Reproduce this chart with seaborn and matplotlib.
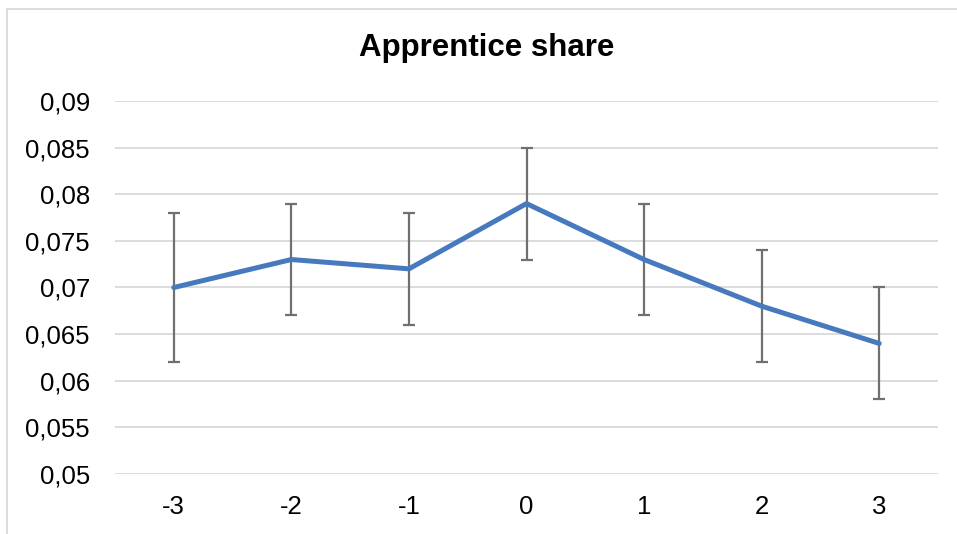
import numpy as np
import pandas as pd
import seaborn as sns
import matplotlib.pyplot as plt
from matplotlib.ticker import FuncFormatter

periods = [-3, -2, -1, 0, 1, 2, 3]
share = [0.070, 0.073, 0.072, 0.079, 0.073, 0.068, 0.064]
lower = [0.062, 0.067, 0.066, 0.073, 0.067, 0.062, 0.058]
upper = [0.078, 0.079, 0.078, 0.085, 0.079, 0.074, 0.070]

df = pd.DataFrame({"period": periods, "share": share})

sns.set_style("white")
plt.rcParams["font.family"] = ["Liberation Sans", "DejaVu Sans"]

fig = plt.figure(figsize=(9.57, 5.34), dpi=100)
ax = fig.add_axes([115 / 957, 1 - 474 / 534, (938 - 115) / 957, (474 - 101) / 534])

# error bars first, line on top
yerr = [np.array(share) - np.array(lower), np.array(upper) - np.array(share)]
ax.errorbar(periods, share, yerr=yerr, fmt="none", ecolor="#707070",
            elinewidth=1.6, capsize=4.5, capthick=1.6, zorder=2)
sns.lineplot(data=df, x="period", y="share", color="#4679bd", linewidth=3.6,
             ax=ax, zorder=3)

ax.set_xlim(-3.5, 3.5)
ax.set_ylim(0.05, 0.09)
ax.set_xticks(periods)
ax.set_xticklabels([str(p) for p in periods])
ax.set_yticks(np.arange(0.05, 0.0901, 0.005))
ax.yaxis.set_major_formatter(FuncFormatter(lambda v, pos: f"{v:.3f}".rstrip("0").replace(".", ",")))
ax.yaxis.grid(True, color="#d9d9d9", linewidth=1.3)
ax.xaxis.grid(False)
for s in ax.spines.values():
    s.set_visible(False)
ax.tick_params(axis="both", length=0, labelsize=18.5, colors="#000000")
ax.tick_params(axis="y", pad=18)
ax.tick_params(axis="x", pad=15)
ax.set_xlabel("")
ax.set_ylabel("")

fig.text(487 / 957, 1 - 48 / 534, "Apprentice share", ha="center", va="center",
         fontsize=22.5, fontweight="bold", color="#000000")

# chart frame (only top and left visible in crop)
fig.add_artist(plt.Line2D([7 / 957, 1], [1 - 9 / 534, 1 - 9 / 534], color="#d9d9d9", linewidth=1.3))
fig.add_artist(plt.Line2D([7 / 957, 7 / 957], [0, 1 - 9 / 534], color="#d9d9d9", linewidth=1.3))

fig.savefig("out.png", dpi=100)
